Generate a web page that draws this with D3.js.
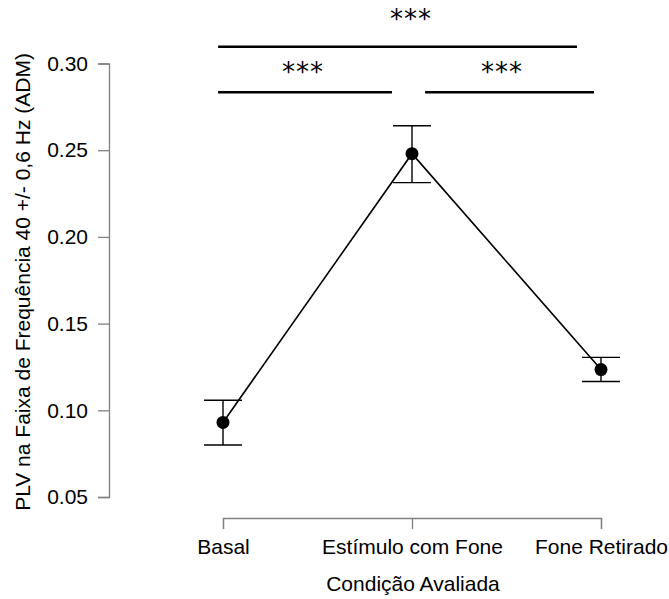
<!DOCTYPE html>
<html>
<head>
<meta charset="utf-8">
<script src="https://cdn.jsdelivr.net/npm/d3@7"></script>
<style>
  body { margin: 0; background: #fff; }
  svg { display: block; font-family: "Liberation Sans", Arial, sans-serif; }
</style>
</head>
<body>
<script>
const categories = ['Basal', 'Estímulo com Fone', 'Fone Retirado'];
const means = [0.093, 0.248, 0.1235];
const lower = [0.080, 0.2313, 0.1166];
const upper = [0.1058, 0.2641, 0.1305];
const yTicks = [0.05, 0.10, 0.15, 0.20, 0.25, 0.30];

// significance brackets, x in category-index units, y in data units
const brackets = [
  { x0: 0.974, x1: 1.894, y: 0.2834, label: '***', lx: 1.423, ly: 0.2987 },
  { x0: 2.069, x1: 2.963, y: 0.2834, label: '***', lx: 2.476, ly: 0.2987 },
  { x0: 0.974, x1: 2.873, y: 0.3097, label: '***', lx: 1.995, ly: 0.3289 }
];

const w = 669,
  h = 599,
  fontSize = '21px';

const xScale = d3.scaleLinear()
  .domain([1, 3])
  .range([223, 601]);

const yScale = d3.scaleLinear()
  .domain([0.05, 0.30])
  .range([497, 63.5]);

const svg = d3.select('body')
  .append('svg')
  .attr('width', w)
  .attr('height', h);

const axisColor = '#808080';

// y axis
const yAxis = d3.axisLeft(yScale)
  .tickValues(yTicks)
  .tickFormat(d3.format('.2f'))
  .tickSizeOuter(0)
  .tickSize(11)
  .tickPadding(10);

const gy = svg.append('g')
  .attr('transform', 'translate(109, 0)')
  .call(yAxis);
gy.select('.domain').attr('stroke', axisColor).attr('stroke-width', 1.3);
gy.selectAll('.tick line').attr('stroke', axisColor).attr('stroke-width', 1.3);
gy.selectAll('.tick text')
  .attr('fill', '#000')
  .style('font-size', fontSize);

// x axis
const xAxis = d3.axisBottom(xScale)
  .tickValues([1, 2, 3])
  .tickFormat((d, i) => categories[i])
  .tickSizeOuter(0)
  .tickSize(11)
  .tickPadding(10);

const gx = svg.append('g')
  .attr('transform', 'translate(0, 518)')
  .call(xAxis);
gx.select('.domain').attr('stroke', axisColor).attr('stroke-width', 1.3);
gx.selectAll('.tick line').attr('stroke', axisColor).attr('stroke-width', 1.3);
gx.selectAll('.tick text')
  .attr('fill', '#000')
  .style('font-size', fontSize);

// axis titles
svg.append('text')
  .attr('x', 413)
  .attr('y', 591)
  .attr('text-anchor', 'middle')
  .style('font-size', fontSize)
  .text('Condição Avaliada');

svg.append('text')
  .attr('transform', 'translate(30, 282) rotate(-90)')
  .attr('text-anchor', 'middle')
  .style('font-size', fontSize)
  .text('PLV na Faixa de Frequência 40 +/- 0,6 Hz (ADM)');

// error bars
const idx = [1, 2, 3];
const capHalf = 19;

svg.selectAll('.err')
  .data(idx)
  .enter()
  .append('line')
  .attr('x1', d => xScale(d))
  .attr('x2', d => xScale(d))
  .attr('y1', (d, i) => yScale(lower[i]))
  .attr('y2', (d, i) => yScale(upper[i]))
  .attr('stroke', '#000')
  .attr('stroke-width', 1.4);

svg.selectAll('.capTop')
  .data(idx)
  .enter()
  .append('line')
  .attr('x1', d => xScale(d) - capHalf)
  .attr('x2', d => xScale(d) + capHalf)
  .attr('y1', (d, i) => yScale(upper[i]))
  .attr('y2', (d, i) => yScale(upper[i]))
  .attr('stroke', '#000')
  .attr('stroke-width', 1.4);

svg.selectAll('.capBot')
  .data(idx)
  .enter()
  .append('line')
  .attr('x1', d => xScale(d) - capHalf)
  .attr('x2', d => xScale(d) + capHalf)
  .attr('y1', (d, i) => yScale(lower[i]))
  .attr('y2', (d, i) => yScale(lower[i]))
  .attr('stroke', '#000')
  .attr('stroke-width', 1.4);

// mean line
const line = d3.line()
  .x((d, i) => xScale(idx[i]))
  .y(d => yScale(d));

svg.append('path')
  .datum(means)
  .attr('d', line)
  .attr('fill', 'none')
  .attr('stroke', '#000')
  .attr('stroke-width', 1.6);

svg.selectAll('circle')
  .data(means)
  .enter()
  .append('circle')
  .attr('cx', (d, i) => xScale(idx[i]))
  .attr('cy', d => yScale(d))
  .attr('r', 6.5)
  .attr('fill', '#000');

// significance brackets
svg.selectAll('.sig')
  .data(brackets)
  .enter()
  .append('line')
  .attr('x1', d => xScale(d.x0))
  .attr('x2', d => xScale(d.x1))
  .attr('y1', d => yScale(d.y))
  .attr('y2', d => yScale(d.y))
  .attr('stroke', '#000')
  .attr('stroke-width', 2.4);

svg.selectAll('.sigLabel')
  .data(brackets)
  .enter()
  .append('text')
  .attr('x', d => xScale(d.lx))
  .attr('y', d => yScale(d.ly))
  .attr('text-anchor', 'middle')
  .style('font-family', '"DejaVu Sans", sans-serif')
  .style('font-size', '26px')
  .style('letter-spacing', '1px')
  .text(d => d.label)
  .each(function(d) {
    // centre the glyphs vertically on the target level
    const b = this.getBBox();
    const target = yScale(d.ly);
    const sel = d3.select(this);
    sel.attr('y', +sel.attr('y') + (target - (b.y + b.height * 0.3)));
  });
</script>
</body>
</html>
